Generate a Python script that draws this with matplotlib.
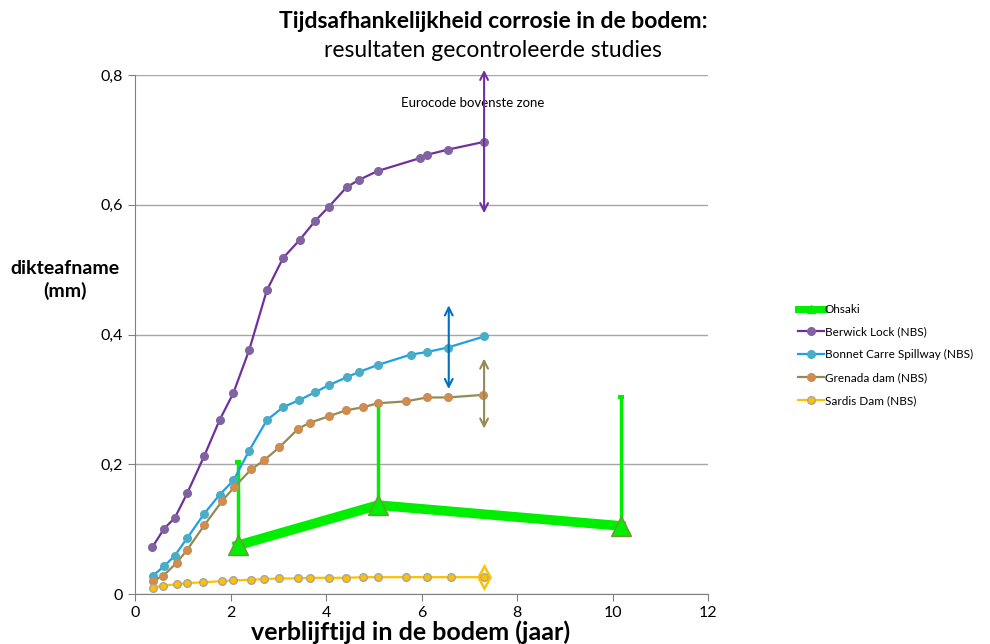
import matplotlib
matplotlib.use('Agg')
import matplotlib.pyplot as plt
from matplotlib.ticker import FuncFormatter
from matplotlib.lines import Line2D

plt.rcParams['font.family'] = ['Lato', 'DejaVu Sans']

# Berwick Lock (NBS)
berwick_x = [0.36, 0.61, 0.83, 1.09, 1.45, 1.77, 2.06, 2.39, 2.76, 3.10, 3.45, 3.77, 4.06, 4.43, 4.68, 5.08, 5.97, 6.11, 6.55, 7.31]
berwick_y = [0.072, 0.101, 0.117, 0.155, 0.213, 0.268, 0.310, 0.376, 0.468, 0.518, 0.546, 0.575, 0.597, 0.627, 0.638, 0.652, 0.672, 0.677, 0.685, 0.697]

# Bonnet Carre Spillway (NBS)
bonnet_x = [0.37, 0.61, 0.83, 1.09, 1.45, 1.77, 2.06, 2.39, 2.76, 3.10, 3.44, 3.77, 4.06, 4.43, 4.68, 5.08, 5.77, 6.11, 6.55, 7.31]
bonnet_y = [0.028, 0.043, 0.059, 0.086, 0.124, 0.153, 0.175, 0.221, 0.268, 0.288, 0.299, 0.311, 0.322, 0.334, 0.342, 0.353, 0.369, 0.373, 0.380, 0.397]

# Grenada dam (NBS)
grenada_x = [0.37, 0.59, 0.87, 1.09, 1.45, 1.83, 2.08, 2.43, 2.70, 3.02, 3.42, 3.66, 4.06, 4.41, 4.78, 5.08, 5.68, 6.11, 6.55, 7.29]
grenada_y = [0.020, 0.028, 0.048, 0.068, 0.106, 0.144, 0.165, 0.192, 0.206, 0.226, 0.255, 0.264, 0.274, 0.283, 0.288, 0.294, 0.297, 0.303, 0.303, 0.307]

# Sardis Dam (NBS)
sardis_x = [0.37, 0.59, 0.87, 1.09, 1.42, 1.83, 2.06, 2.43, 2.70, 3.02, 3.42, 3.66, 4.06, 4.41, 4.78, 5.08, 5.68, 6.11, 6.62, 7.31]
sardis_y = [0.010, 0.013, 0.015, 0.017, 0.018, 0.020, 0.021, 0.022, 0.023, 0.024, 0.024, 0.025, 0.025, 0.025, 0.026, 0.026, 0.026, 0.026, 0.026, 0.026]

# Ohsaki, with upper spread
ohsaki_x = [2.15, 5.09, 10.17]
ohsaki_y = [0.075, 0.137, 0.105]
ohsaki_top = [0.204, 0.293, 0.303]

# spread arrows (x, bottom, top)
arrows = [
    (7.31, 0.587, 0.808, '#7030A0'),
    (6.57, 0.316, 0.445, '#0070C0'),
    (7.31, 0.255, 0.363, '#948A54'),
]

fig = plt.figure(figsize=(9.9, 6.44), dpi=100)
ax = fig.add_axes([0.1364, 0.0776, 0.5788, 0.8059])

green = '#00EE00'
up = [t - y for t, y in zip(ohsaki_top, ohsaki_y)]
ax.errorbar(ohsaki_x, ohsaki_y, yerr=[[0, 0, 0], up], color=green, ecolor=green,
            lw=7, elinewidth=2.5, capsize=2.5, capthick=3, marker='^', ms=14,
            mfc=green, mec='#77933C', zorder=3)
ax.plot(berwick_x, berwick_y, color='#7030A0', lw=1.6, marker='o', ms=5.5,
        mfc='#8064A2', mec='#8064A2', label='Berwick Lock (NBS)', zorder=4)
ax.plot(bonnet_x, bonnet_y, color='#1E9FEA', lw=1.6, marker='o', ms=5.5,
        mfc='#4BACC6', mec='#4BACC6', label='Bonnet Carre Spillway (NBS)', zorder=4)
ax.plot(grenada_x, grenada_y, color='#948A54', lw=1.6, marker='o', ms=5.5,
        mfc='#D9894A', mec='#C0905A', label='Grenada dam (NBS)', zorder=4)
ax.plot(sardis_x, sardis_y, color='#FFC000', lw=1.6, marker='o', ms=5.5,
        mfc='#FFC000', mec='#A5A5A5', label='Sardis Dam (NBS)', zorder=4)

for x, lo, hi, c in arrows:
    ax.annotate('', xy=(x, hi), xytext=(x, lo), annotation_clip=False,
                arrowprops=dict(arrowstyle='<->', color=c, lw=1.5, mutation_scale=14,
                                shrinkA=0, shrinkB=0), zorder=5)
ax.plot([sardis_x[-1]], [sardis_y[-1]], marker='d', ms=11, mfc='none', mec='#FFC000', mew=1.8, zorder=5)

ax.text(5.57, 0.757, 'Eurocode bovenste zone', fontsize=9.5, va='center', ha='left')

ax.set_xlim(0, 12)
ax.set_ylim(0, 0.8)
ax.set_xticks(range(0, 13, 2))
ax.set_yticks([0, 0.2, 0.4, 0.6, 0.8])
ax.yaxis.set_major_formatter(FuncFormatter(lambda v, p: '0' if v == 0 else ('%.1f' % v).replace('.', ',')))
ax.tick_params(labelsize=11.5, length=5, color='#808080')
ax.grid(axis='y', color='#A6A6A6', lw=1)
ax.set_axisbelow(True)
for s in ['top', 'right']:
    ax.spines[s].set_visible(False)
for s in ['left', 'bottom']:
    ax.spines[s].set_color('#808080')

fig.text(0.498, 0.966, 'Tijdsafhankelijkheid corrosie in de bodem:', fontsize=16.5, fontweight='bold',
         ha='center', va='center')
fig.text(0.498, 0.922, 'resultaten gecontroleerde studies', fontsize=16.5, ha='center', va='center')
fig.text(0.066, 0.565, 'dikteafname\n(mm)', fontsize=14, fontweight='bold', ha='center', va='center',
         linespacing=1.3)
fig.text(0.415, 0.018, 'verblijftijd in de bodem (jaar)', fontsize=18, fontweight='bold',
         ha='center', va='center')

handles, labels = ax.get_legend_handles_labels()
oh = Line2D([], [], color=green, lw=5, marker='^', ms=6, mfc=green, mec=green)
leg = fig.legend([oh] + handles, ['Ohsaki'] + labels, loc='upper left',
                 bbox_to_anchor=(0.795, 0.545), frameon=False, fontsize=8.5,
                 handlelength=2.2, handletextpad=0.1, labelspacing=1.0)

fig.savefig('out.png', dpi=100)
